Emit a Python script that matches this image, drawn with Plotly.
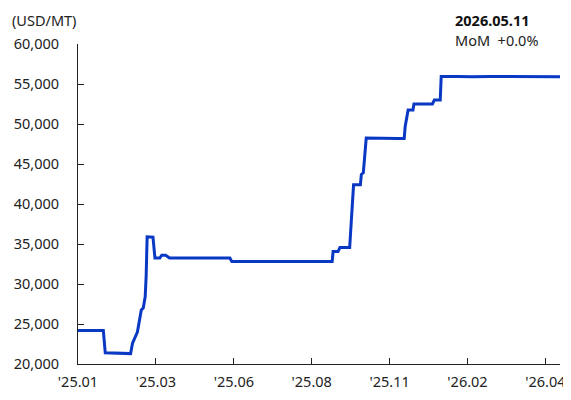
import plotly.graph_objects as go

# Data
dates = [
    "2025-01-01", "2025-01-27", "2025-01-29", "2025-02-23", "2025-02-24",
    "2025-02-26", "2025-03-01", "2025-03-03", "2025-03-07", "2025-03-09",
    "2025-03-11", "2025-03-12", "2025-03-13", "2025-03-19", "2025-03-21",
    "2025-03-26", "2025-03-28", "2025-04-01", "2025-04-05", "2025-06-06",
    "2025-06-08", "2025-09-19", "2025-09-20", "2025-09-25", "2025-09-27",
    "2025-10-07", "2025-10-09", "2025-10-11", "2025-10-18", "2025-10-19",
    "2025-10-21", "2025-10-24", "2025-11-26", "2025-12-02", "2025-12-03",
    "2025-12-06", "2025-12-11", "2025-12-12", "2025-12-31", "2026-01-02",
    "2026-01-08", "2026-01-09", "2026-01-25", "2026-02-10", "2026-03-01",
    "2026-03-20", "2026-04-10", "2026-04-28", "2026-05-11",
]
prices = [
    24200, 24200, 21400, 21250, 21300,
    22600, 23600, 24000, 26750, 27000,
    28400, 31000, 35900, 35850, 33250,
    33250, 33600, 33600, 33250, 33250,
    32800, 32800, 34050, 34050, 34550,
    34550, 38500, 42400, 42400, 43700,
    43900, 48250, 48200, 48200, 49700,
    51750, 51750, 52500, 52500, 53000,
    53000, 55950, 55950, 55900, 55950,
    55950, 55900, 55950, 55900,
]

tick_dates = ["2025-01-01", "2025-03-22", "2025-06-10", "2025-08-29",
              "2025-11-17", "2026-02-05", "2026-04-26"]
tick_labels = ["'25.01", "'25.03", "'25.06", "'25.08", "'25.11", "'26.02", "'26.04"]

y_ticks = [20000, 25000, 30000, 35000, 40000, 45000, 50000, 55000, 60000]

unit_label = "(USD/MT)"
date_label = "2026.05.11"
mom_label = "MoM  +0.0%"

FONT = "Noto Sans, Open Sans, sans-serif"
FS = 14.5

fig = go.Figure()
fig.add_trace(go.Scatter(
    x=dates, y=prices, mode="lines",
    line=dict(color="#0838C4", width=3),
    showlegend=False,
))

# page body has an 8px default margin, so the figure is sized 8px smaller
fig.update_layout(
    width=563, height=392,
    margin=dict(l=70, r=11, t=36, b=36),
    paper_bgcolor="white", plot_bgcolor="white",
    font=dict(family=FONT, size=FS, color="#222222"),
    xaxis=dict(
        type="date",
        range=["2025-01-01", "2026-05-11"],
        tickvals=tick_dates, ticktext=tick_labels,
        showgrid=False, zeroline=False,
        showline=True, linecolor="#222222", linewidth=1,
        ticks="inside", ticklen=6, tickcolor="#222222",
        ticklabelstandoff=5, automargin=False,
        ticklabeloverflow="allow",
    ),
    yaxis=dict(
        range=[20000, 60000],
        tickvals=y_ticks, tickformat=",",
        showgrid=False, zeroline=False,
        showline=True, linecolor="#222222", linewidth=1,
        ticks="inside", ticklen=6, tickcolor="#222222",
        ticklabelstandoff=15, automargin=False,
    ),
    annotations=[
        dict(text=unit_label, xref="paper", yref="paper",
             x=-0.141, y=1.1125, xanchor="left", yanchor="top",
             showarrow=False, font=dict(size=FS, color="#222222")),
        dict(text="<b>" + date_label + "</b>", xref="paper", yref="paper",
             x=0.778, y=1.1125, xanchor="left", yanchor="top",
             showarrow=False, font=dict(size=FS, color="#111111")),
        dict(text=mom_label, xref="paper", yref="paper",
             x=0.778, y=1.0125, xanchor="left", yanchor="middle",
             showarrow=False, font=dict(size=FS, color="#222222")),
    ],
)

fig.write_html("out.html")
